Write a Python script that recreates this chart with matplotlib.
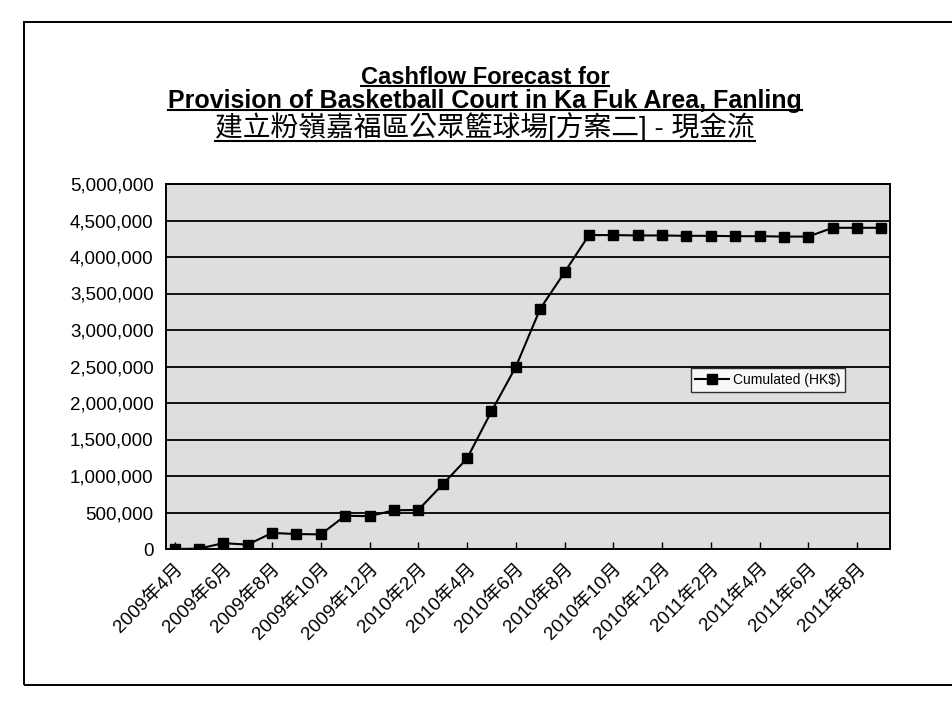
#_______________________________NOTES_________________________________________#
'''Cashflow forecast chart (cumulated HK$ per month), Excel style line chart
Values are read off a scanned chart, so they are approximate'''

#_____________________________LIBRARIES_______________________________________#
import matplotlib
matplotlib.use('Agg')
from matplotlib import pyplot as plt
from matplotlib.lines import Line2D
from matplotlib.patches import Rectangle
from matplotlib.ticker import FuncFormatter, MultipleLocator

#_________________________________DATA___________________________________________#
months = ['2009年4月', '2009年5月', '2009年6月', '2009年7月', '2009年8月', '2009年9月',
          '2009年10月', '2009年11月', '2009年12月', '2010年1月', '2010年2月', '2010年3月',
          '2010年4月', '2010年5月', '2010年6月', '2010年7月', '2010年8月', '2010年9月',
          '2010年10月', '2010年11月', '2010年12月', '2011年1月', '2011年2月', '2011年3月',
          '2011年4月', '2011年5月', '2011年6月', '2011年7月', '2011年8月', '2011年9月']
cumulated = [0, 5000, 80000, 60000, 220000, 205000, 200000, 455000, 450000, 530000,
             535000, 885000, 1240000, 1885000, 2495000, 3290000, 3790000, 4300000,
             4300000, 4295000, 4295000, 4290000, 4290000, 4285000, 4285000, 4280000,
             4280000, 4400000, 4400000, 4400000]
series_name = 'Cumulated (HK$)'
title_lines = ['Cashflow Forecast for',
               'Provision of Basketball Court in Ka Fuk Area, Fanling',
               '建立粉嶺嘉福區公眾籃球場[方案二] - 現金流']

#_________________________________MAIN CODE___________________________________________#
W, H = 953, 705
latin = ['Liberation Sans', 'Noto Sans CJK TC', 'DejaVu Sans']
plt.rcParams['font.family'] = latin

fig = plt.figure(figsize=(W / 100, H / 100), dpi=100)
fig.patch.set_facecolor('white')

# outer chart border (right edge runs off the page in the scan)
fig.add_artist(Rectangle((24 / W, 1 - 685 / H), 960 / W, (685 - 22) / H,
                         transform=fig.transFigure, fill=False, edgecolor='black', lw=1.4))

ax = fig.add_axes([166 / W, 1 - 549 / H, 724 / W, 365 / H])
ax.set_facecolor('#dedede')

x = list(range(len(months)))
ax.plot(x, cumulated, color='black', lw=1.5, marker='s', markersize=7,
        markerfacecolor='black', markeredgecolor='black', label=series_name, zorder=3)

ax.set_xlim(-0.35, len(months) - 1 + 0.35)
ax.set_ylim(0, 5000000)
ax.yaxis.set_major_locator(MultipleLocator(500000))
ax.yaxis.set_major_formatter(FuncFormatter(lambda v, p: f'{int(v):,}'))
ax.grid(axis='y', color='black', lw=1.3)
ax.set_axisbelow(True)

ax.set_xticks(x[::2])
ax.set_xticklabels(months[::2], rotation=45, ha='right', rotation_mode='anchor',
                   fontsize=13.5, family=latin)
ax.tick_params(axis='x', direction='in', length=5, width=1, pad=8)
ax.tick_params(axis='y', length=0, pad=9, labelsize=13.5)

for s in ax.spines.values():
    s.set_color('black')
    s.set_linewidth(1.4)

leg = ax.legend(loc='center left', bbox_to_anchor=(0.715, 0.463), fontsize=10,
                frameon=True, fancybox=False, handlelength=2.4, borderpad=0.35,
                handletextpad=0.3)
leg.get_frame().set_edgecolor('black')
leg.get_frame().set_facecolor('white')
leg.get_frame().set_linewidth(1.0)

# titles, underlined like the Excel original
title_y = [1 - 77 / H, 1 - 101 / H, 1 - 127 / H]
title_size = [17, 18, 20]
title_weight = ['bold', 'bold', 'normal']
underline_off = [0.12, 0.12, 0.02]  # fraction of text box height above its bottom
texts = []
for line, yy, fs, fw in zip(title_lines, title_y, title_size, title_weight):
    t = fig.text(0.509, yy, line, ha='center', va='center', fontsize=fs,
                 fontweight=fw, family=latin)
    texts.append(t)

fig.canvas.draw()
renderer = fig.canvas.get_renderer()
for t, off in zip(texts, underline_off):
    bb = t.get_window_extent(renderer)
    uy = (bb.y0 + off * bb.height) / H
    fig.add_artist(Line2D([bb.x0 / W, bb.x1 / W], [uy, uy], transform=fig.transFigure,
                          color='black', lw=1.5))

fig.savefig('out.png', dpi=100)
